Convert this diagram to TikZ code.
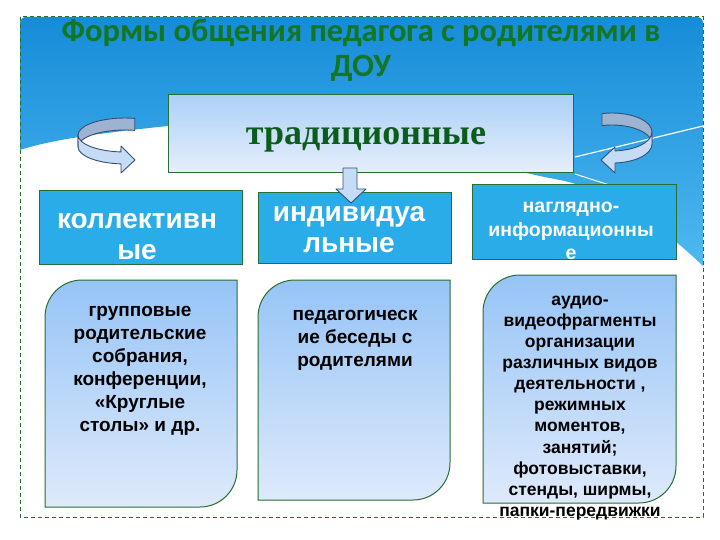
\documentclass[tikz,border=0pt]{standalone}
\usepackage{fontspec}
\setmainfont{Liberation Sans}
\newfontfamily\titlefont{Carlito}
\newfontfamily\serfont{Liberation Serif}
\usetikzlibrary{positioning,calc}
\definecolor{skytop}{RGB}{22,140,216}
\definecolor{skybot}{RGB}{78,184,240}
\definecolor{framegreen}{RGB}{40,110,50}
\definecolor{titlegreen}{RGB}{18,118,34}
\definecolor{tradgreen}{RGB}{12,92,28}
\definecolor{catcyan}{RGB}{42,172,232}
\definecolor{boxtop}{RGB}{150,196,246}
\definecolor{boxbot}{RGB}{222,234,251}
\definecolor{tradtop}{RGB}{172,208,246}
\definecolor{tradbot}{RGB}{230,239,252}
\definecolor{arrline}{RGB}{50,80,120}
\definecolor{arrback}{RGB}{158,178,210}
\definecolor{arrfront}{RGB}{198,220,246}
\tikzset{framebox/.style={draw=framegreen, line width=1pt}}
\tikzset{catbox/.style={framebox, fill=catcyan, inner sep=0pt}}
\tikzset{cattext/.style={text=white, font=\bfseries\fontsize{28}{31}\selectfont, align=center, inner sep=0pt}}
\tikzset{infotext/.style={text=white, font=\bfseries\fontsize{19.5}{23.5}\selectfont, align=center, inner sep=0pt}}
\tikzset{formbox/.style={framebox, top color=boxtop, bottom color=boxbot}}
\tikzset{formtext/.style={font=\bfseries\fontsize{19}{23}\selectfont, align=center, inner sep=0pt}}
\tikzset{smalltext/.style={font=\bfseries\fontsize{17.5}{21.1}\selectfont, align=center, inner sep=0pt}}
\tikzset{bandarr/.style={draw=arrline, line width=0.9pt, line join=round}}
% box with rounded top left and bottom right corners
\newcommand{\leafbox}[5]{%
  \path[formbox] (#1,#4) -- (#1,#2+#5) arc[start angle=180, end angle=270, radius=#5]
    -- (#3,#2) -- (#3,#4-#5) arc[start angle=0, end angle=90, radius=#5] -- cycle;}

\begin{document}
\begin{tikzpicture}[x=1pt, y=-1pt]
  \useasboundingbox (0,0) rectangle (720,540);
  \fill[white] (0,0) rectangle (720,540);
  % sky
  \path[top color=skytop, bottom color=skybot] (20,150) -- (20,23)
    arc[start angle=180, end angle=270, radius=6] -- (697,17)
    arc[start angle=270, end angle=360, radius=6] -- (703,266)
    .. controls (650,215) and (600,188) .. (560,180)
    .. controls (450,160) and (330,105) .. (168,126)
    .. controls (100,133) and (50,140) .. (20,150) -- cycle;
  \draw[white, line width=1.2pt] (575,157) -- (703,126);
  \draw[white, line width=1pt] (575,174) -- (625,190);
  \draw[framegreen, line width=1pt, dash pattern=on 4pt off 3pt] (20,17) rectangle (703,517);
  % title
  \node[text=titlegreen, font=\titlefont\bfseries\fontsize{32.5}{35}\selectfont, align=center, inner sep=0pt]
    (title) at (361,50) {Формы общения педагога с родителями в\\ДОУ};
  % top box
  \node[framebox, top color=tradtop, bottom color=tradbot, minimum width=405, minimum height=78, inner sep=0pt]
    (trad) at (370.5,134) {};
  \node[text=tradgreen, font=\serfont\bfseries\fontsize{36}{40}\selectfont, inner sep=0pt]
    (tradlabel) at (366,140) {традиционные};
  % curved arrows
  \path[bandarr, fill=arrback] (134.8,118.4) arc[start angle=-78, end angle=-180, x radius=47, y radius=17]
    -- (78,147) arc[start angle=-180, end angle=-78, x radius=47, y radius=17] -- cycle;
  \path[bandarr, fill=arrfront] (78,135) arc[start angle=180, end angle=95, x radius=47, y radius=17]
    -- (121,146) -- (135,160) -- (121,173) -- (121,163.9)
    arc[start angle=95, end angle=180, x radius=47, y radius=17] -- cycle;
  \path[bandarr, fill=arrback] (602,113.6) arc[start angle=-104.5, end angle=0, x radius=40, y radius=19]
    -- (652,144) arc[start angle=0, end angle=-104.5, x radius=40, y radius=19] -- cycle;
  \path[bandarr, fill=arrfront] (652,132) arc[start angle=0, end angle=85.7, x radius=40, y radius=19]
    -- (615,147) -- (601,160) -- (615,173) -- (615,163)
    arc[start angle=85.7, end angle=0, x radius=40, y radius=19] -- cycle;
  % categories
  \node[catbox, minimum width=203, minimum height=73] (koll) at (140.5,227.5) {};
  \node[catbox, minimum width=193, minimum height=70] (indiv) at (354.5,228) {};
  \node[catbox, minimum width=204, minimum height=74] (nagl) at (574.5,222) {};
  \path[bandarr, fill=arrfront] (343,168) -- (357,168) -- (357,189) -- (366,189) -- (351,203)
    -- (336,189) -- (343,189) -- cycle;
  \node[cattext] (kolltext) at (137,237) {коллективн\\ые};
  \node[cattext] (indivtext) at (349,230) {индивидуа\\льные};
  \node[infotext] (nagltext) at (571,231) {наглядно-\\информационны\\е};
  % forms
  \leafbox{45}{280}{237}{507}{37}
  \leafbox{258}{280}{450}{500}{37}
  \leafbox{483}{275}{676}{503}{37}
  \node[formtext] (group) at (140,371) {групповые\\родительские\\собрания,\\конференции,\\«Круглые\\столы» и др.};
  \node[formtext] (talk) at (355,340) {педагогическ\\ие беседы с\\родителями};
  \node[smalltext] (visual) at (580,408) {аудио-\\видеофрагменты\\организации\\различных видов\\деятельности ,\\режимных\\моментов,\\занятий;\\фотовыставки,\\стенды, ширмы,\\папки-передвижки};
\end{tikzpicture}
\end{document}
